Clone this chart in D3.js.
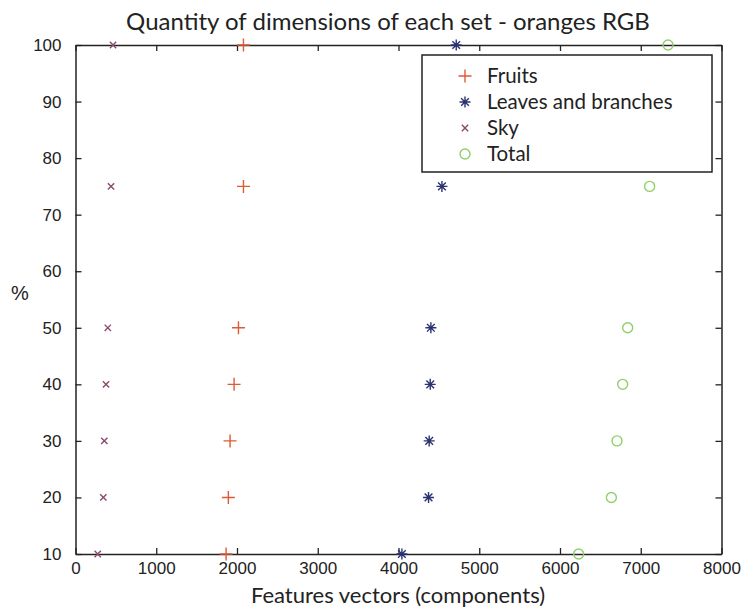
<!DOCTYPE html>
<html>
<head>
<meta charset="utf-8">
<script src="https://d3js.org/d3.v7.min.js"></script>
<style>
  body { margin: 0; background: #fff; }
  text { fill: #222; }
</style>
</head>
<body>
<svg width="743" height="608"></svg>
<script>
// y levels (%) shared by every series
var levels = [10, 20, 30, 40, 50, 75, 100];

// number of components, one value per level
var fruits = [1865, 1893, 1914, 1964, 2018, 2080, 2080];
var leaves = [4042, 4372, 4380, 4393, 4401, 4538, 4715];
var sky    = [275, 345, 357, 378, 400, 440, 465];
var total  = [6231, 6636, 6706, 6776, 6838, 7110, 7338];

var seriesNames = ["Fruits", "Leaves and branches", "Sky", "Total"];
var seriesColors = ["#dd5a36", "#2b3270", "#8a4a6e", "#8fd06a"];
var seriesShapes = ["plus", "star", "cross", "circle"];

var xTicks = [0, 1000, 2000, 3000, 4000, 5000, 6000, 7000, 8000];
var yTicks = [10, 20, 30, 40, 50, 60, 70, 80, 90, 100];

var svg = d3.select("svg");

var x = d3.scaleLinear().domain([0, 8000]).range([75.5, 721.5]);
var y = d3.scaleLinear().domain([10, 100]).range([554, 45]);

// marker paths (stroked, matlab style)
function marker(shape, r) {
  var p = d3.path();
  if (shape == "plus") {
    p.moveTo(-r, 0); p.lineTo(r, 0); p.moveTo(0, -r); p.lineTo(0, r);
  } else if (shape == "cross") {
    var c = r * 0.7;
    p.moveTo(-c, -c); p.lineTo(c, c); p.moveTo(-c, c); p.lineTo(c, -c);
  } else if (shape == "star") {
    p.moveTo(-r, 0); p.lineTo(r, 0); p.moveTo(0, -r); p.lineTo(0, r);
    var c = r * 0.7;
    p.moveTo(-c, -c); p.lineTo(c, c); p.moveTo(-c, c); p.lineTo(c, -c);
  } else {
    p.arc(0, 0, r, 0, Math.PI * 2);
  }
  return p.toString();
}
var markerSize = {plus: 6.5, star: 5.5, cross: 4.5, circle: 5};

// axes box with inward ticks on all four sides
var gx = svg.append("g").attr("transform", "translate(0," + y(10) + ")")
  .call(d3.axisBottom(x).tickValues(xTicks).tickSizeInner(-6).tickSizeOuter(0).tickPadding(8).tickFormat(d3.format("d")));
var gxTop = svg.append("g").attr("transform", "translate(0," + y(100) + ")")
  .call(d3.axisTop(x).tickValues(xTicks).tickSizeInner(-6).tickSizeOuter(0).tickFormat(""));
var gy = svg.append("g").attr("transform", "translate(" + x(0) + ",0)")
  .call(d3.axisLeft(y).tickValues(yTicks).tickSizeInner(-6).tickSizeOuter(0).tickPadding(14));
var gyRight = svg.append("g").attr("transform", "translate(" + x(8000) + ",0)")
  .call(d3.axisRight(y).tickValues(yTicks).tickSizeInner(-6).tickSizeOuter(0).tickFormat(""));

svg.selectAll(".domain").attr("stroke", "#222").attr("stroke-width", 1.5);
svg.selectAll(".tick line").attr("stroke", "#222").attr("stroke-width", 1.3);
svg.selectAll(".tick text")
  .style("font-family", "'Liberation Sans', Arial, sans-serif")
  .style("font-size", "17px")
  .attr("fill", "#222");

// data points
var all = [fruits, leaves, sky, total];
all.forEach(function(vals, i) {
  svg.append("g").selectAll("path")
    .data(vals)
    .join("path")
      .attr("transform", function(d, j) { return "translate(" + x(d) + "," + y(levels[j]) + ")"; })
      .attr("d", marker(seriesShapes[i], markerSize[seriesShapes[i]]))
      .attr("fill", "none")
      .attr("stroke", seriesColors[i])
      .attr("stroke-width", 1.4);
});

// titles
svg.append("text")
  .attr("x", 388).attr("y", 30)
  .attr("text-anchor", "middle")
  .style("font-family", "Lato, 'Open Sans', sans-serif")
  .style("font-size", "24px")
  .text("Quantity of dimensions of each set - oranges RGB");

svg.append("text")
  .attr("x", 398).attr("y", 603)
  .attr("text-anchor", "middle")
  .style("font-family", "Lato, 'Open Sans', sans-serif")
  .style("font-size", "22px")
  .text("Features vectors (components)");

svg.append("text")
  .attr("x", 20).attr("y", 300)
  .attr("text-anchor", "middle")
  .style("font-family", "'Liberation Sans', Arial, sans-serif")
  .style("font-size", "20px")
  .text("%");

// legend
var legend = svg.append("g");
legend.append("rect")
  .attr("x", 422).attr("y", 55)
  .attr("width", 290).attr("height", 117)
  .attr("fill", "#fff")
  .attr("stroke", "#222")
  .attr("stroke-width", 1.5);

seriesNames.forEach(function(name, i) {
  var ly = 76 + i * 26;
  legend.append("path")
    .attr("transform", "translate(465," + ly + ")")
    .attr("d", marker(seriesShapes[i], markerSize[seriesShapes[i]]))
    .attr("fill", "none")
    .attr("stroke", seriesColors[i])
    .attr("stroke-width", 1.4);
  legend.append("text")
    .attr("x", 487).attr("y", ly + 7)
    .style("font-family", "Lato, 'Open Sans', sans-serif")
    .style("font-size", "20.5px")
    .text(name);
});
</script>
</body>
</html>
